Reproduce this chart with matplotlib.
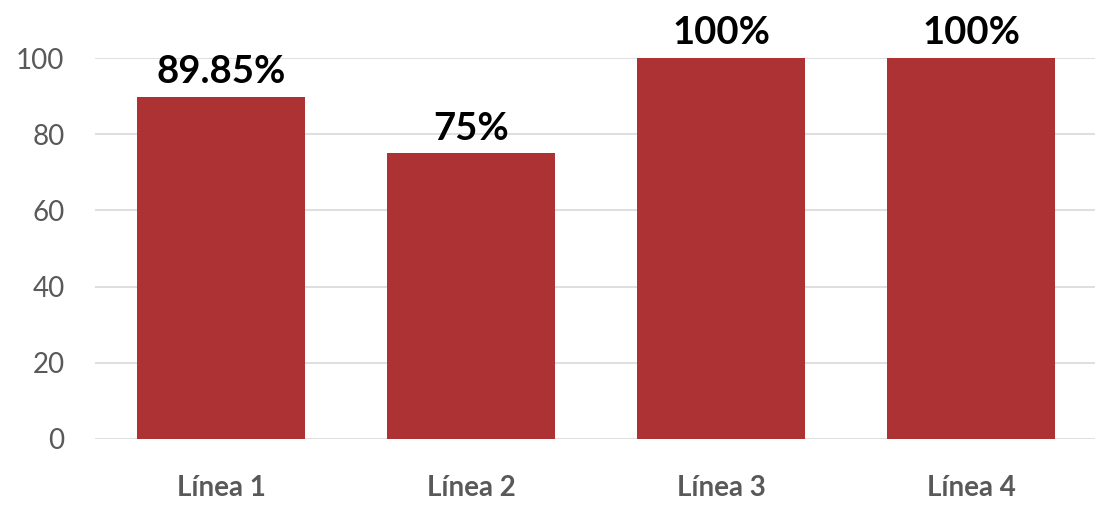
import matplotlib.pyplot as plt

categories = ['Línea 1', 'Línea 2', 'Línea 3', 'Línea 4']
values = [89.85, 75, 100, 100]
labels = ['89.85%', '75%', '100%', '100%']
yticks = [0, 20, 40, 60, 80, 100]

plt.rcParams['font.family'] = ['Lato', 'DejaVu Sans']

fig = plt.figure(figsize=(11.01, 5.05), dpi=100)
ax = fig.add_axes([0.0863, 0.1307, 0.9083, 0.7543])

x = range(len(categories))
bars = ax.bar(x, values, width=0.672, color='#AD3234', zorder=2)

for b, lab in zip(bars, labels):
    ax.text(b.get_x() + b.get_width() / 2, b.get_height() + 2, lab,
            ha='center', va='bottom', fontsize=27.5, fontweight='bold',
            color='black', clip_on=False)

ax.set_xlim(-0.505, 3.495)
ax.set_ylim(0, 100)
ax.set_yticks(yticks)
ax.set_xticks(list(x))
ax.set_xticklabels(categories, fontsize=20, fontweight='bold', color='#595959')
ax.tick_params(axis='y', labelsize=20, labelcolor='#595959', length=0, pad=22)
ax.tick_params(axis='x', length=0, pad=26)
ax.grid(axis='y', color='#D9D9D9', linewidth=1.2, zorder=0)
for s in ax.spines.values():
    s.set_visible(False)

fig.savefig('out.png', dpi=100)
